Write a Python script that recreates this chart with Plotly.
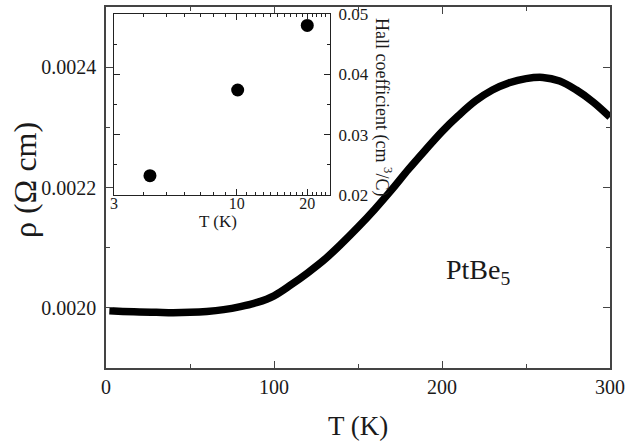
import plotly.graph_objects as go
import math

# Main curve: resistivity vs temperature
T_main = [2, 10, 20, 30, 40, 50, 60, 70, 80, 90, 100, 110, 120, 130, 140, 150,
          160, 170, 180, 190, 200, 210, 220, 230, 240, 250, 260, 270, 280, 290, 300]
rho = [0.001995, 0.001994, 0.001993, 0.0019925, 0.001992, 0.0019925, 0.001994,
       0.001997, 0.002002, 0.002009, 0.002020, 0.002038, 0.002058, 0.002080,
       0.002106, 0.002134, 0.002164, 0.002196, 0.002230, 0.002262, 0.002293,
       0.002320, 0.002344, 0.002362, 0.002374, 0.002381, 0.002383, 0.002377,
       0.002362, 0.002342, 0.002317]

# Inset: Hall coefficient vs temperature
T_hall = [4.27, 10.1, 20.0]
R_hall = [0.0232, 0.0374, 0.0481]

x_ticks_main = [0, 100, 200, 300]
y_ticks_main = [0.0020, 0.0022, 0.0024]
x_ticks_inset = [3, 10, 20]
x_minor_inset = [4, 5, 6, 7, 8, 9, 11, 12, 13, 14, 15, 16, 17, 18, 19, 21, 22, 23, 24]
y_ticks_inset = [0.02, 0.03, 0.04, 0.05]

W, H = 628, 441
L, R, Tm, B = 106, 18, 7, 73
PW, PH = W - L - R, H - Tm - B

def px(x):
    return (x - L) / PW

def py(y):
    return (H - B - y) / PH

FONT = "Liberation Serif, Times New Roman, serif"
TXT = "#1a1a1a"
AX = "#444444"

fig = go.Figure()
fig.add_trace(go.Scatter(x=T_main, y=rho, mode="lines",
                         line=dict(color="black", width=7.5, shape="spline"),
                         xaxis="x", yaxis="y", showlegend=False, hoverinfo="skip"))
fig.add_trace(go.Scatter(x=T_hall, y=R_hall, mode="markers",
                         marker=dict(color="black", size=13),
                         xaxis="x2", yaxis="y2", showlegend=False, hoverinfo="skip"))

common = dict(showline=True, linecolor=AX, linewidth=1.5, mirror="ticks",
              ticks="inside", tickcolor=AX, showgrid=False, zeroline=False,
              automargin=False,
              tickfont=dict(family=FONT, size=20, color=TXT))

fig.update_layout(
    template="none",
    width=W, height=H,
    margin=dict(l=L, r=R, t=Tm, b=B, autoexpand=False),
    paper_bgcolor="white", plot_bgcolor="white",
    xaxis=dict(range=[0, 300], tickvals=x_ticks_main, ticklen=7, tickwidth=1.2,
               minor=dict(dtick=50, ticks="inside", ticklen=4, tickcolor=AX, showgrid=False),
               ticklabelstandoff=0, **common),
    yaxis=dict(range=[0.0019, 0.0025], tickvals=y_ticks_main, tickformat=".4f",
               ticklen=7, tickwidth=1.2,
               minor=dict(dtick=0.0001, ticks="inside", ticklen=4, tickcolor=AX, showgrid=False),
               ticklabelstandoff=4, **common),
    xaxis2=dict(domain=[px(114), px(330)], anchor="y2", type="log",
                range=[math.log10(3), math.log10(25)], tickvals=x_ticks_inset,
                ticktext=[str(v) for v in x_ticks_inset],
                showline=True, linecolor="#222222", linewidth=1.2, mirror="ticks",
                ticks="inside", tickcolor="#222222", ticklen=6, showgrid=False, zeroline=False,
                automargin=False,
                minor=dict(tickvals=x_minor_inset, ticks="inside", ticklen=3,
                           tickcolor="#222222", showgrid=False),
                ticklabelstandoff=-6,
                tickfont=dict(family=FONT, size=16, color=TXT)),
    yaxis2=dict(domain=[py(195), py(14)], anchor="x2", side="right",
                range=[0.02, 0.05], tickvals=y_ticks_inset, tickformat=".2f",
                showline=True, linecolor="#222222", linewidth=1.2, mirror="ticks",
                ticks="inside", tickcolor="#222222", ticklen=6, showgrid=False, zeroline=False,
                automargin=False,
                minor=dict(dtick=0.005, ticks="inside", ticklen=3, tickcolor="#222222",
                           showgrid=False),
                ticklabelstandoff=4,
                tickfont=dict(family=FONT, size=17, color=TXT)),
    annotations=[
        dict(text="ρ (Ω cm)", x=px(25), y=py(180), xref="paper", yref="paper",
             textangle=-90, showarrow=False, xanchor="center", yanchor="middle",
             font=dict(family=FONT, size=32, color=TXT)),
        dict(text="T (K)", x=px(358), y=py(426), xref="paper", yref="paper",
             showarrow=False, xanchor="center", yanchor="middle",
             font=dict(family=FONT, size=27, color=TXT)),
        dict(text="PtBe<sub>5</sub>", x=px(478), y=py(271), xref="paper", yref="paper",
             showarrow=False, xanchor="center", yanchor="middle",
             font=dict(family=FONT, size=28, color=TXT)),
        dict(text="T (K)", x=px(218), y=py(221), xref="paper", yref="paper",
             showarrow=False, xanchor="center", yanchor="middle",
             font=dict(family=FONT, size=17, color=TXT)),
        dict(text="Hall coefficient (cm <sup>3</sup>/C)", x=px(383), y=py(107),
             xref="paper", yref="paper", textangle=90, showarrow=False,
             xanchor="center", yanchor="middle",
             font=dict(family=FONT, size=18, color=TXT)),
    ],
)

fig.write_html("out.html", config={"displayModeBar": False},
               post_script="document.body.style.margin='0';document.body.style.overflow='hidden';")
